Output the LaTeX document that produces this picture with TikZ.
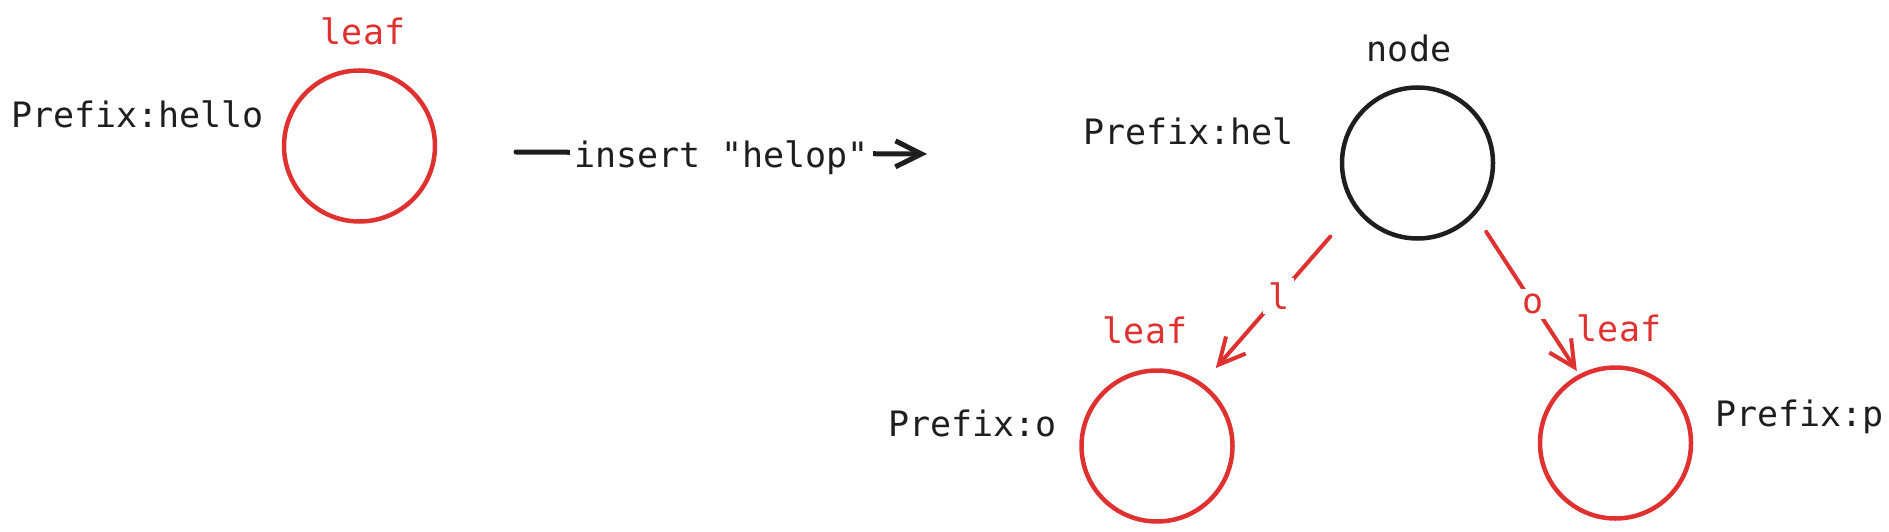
\documentclass[tikz,border=0pt]{standalone}
\usepackage{fontspec}
\setmonofont{DejaVu Sans Mono}
\usetikzlibrary{arrows.meta}
\definecolor{exred}{HTML}{E03131}
\definecolor{exblack}{HTML}{1E1E1E}
\begin{document}
\begin{tikzpicture}[x=1pt,y=-1pt,
  txt/.style={inner sep=0pt, font=\ttfamily\fontsize{35}{42}\selectfont},
  blacktxt/.style={txt, text=exblack},
  redtxt/.style={txt, text=exred},
  ring/.style={circle, line width=4.5pt, minimum size=151pt, inner sep=0pt},
  redring/.style={ring, draw=exred},
  blackring/.style={ring, draw=exblack},
  barb/.style={-{Straight Barb[length=26pt,width=26pt]}, line width=4pt, line cap=round},
  redbarb/.style={barb, draw=exred},
  blackbarb/.style={barb, draw=exblack, line width=5pt},
  edgelabel/.style={redtxt, fill=white, inner sep=5pt}
]
\useasboundingbox (0,0) rectangle (1889,532);

% left: single leaf
\node[redring] (leaf0) at (359.5,146) {};
\node[redtxt, anchor=base] (leaf0lab) at (363,45) {leaf};
\node[blacktxt, anchor=base west] (leaf0pre) at (11,128) {Prefix:hello};

% insert arrow
\coordinate (a1) at (516,152);
\coordinate (a2) at (927,154);
\draw[blackbarb] (a1) -- node[blacktxt, fill=white, inner sep=4pt, yshift=-4.5pt] (inslab) {insert "helop"} (a2);

% right: tree
\node[blackring] (top) at (1417.5,163) {};
\node[blacktxt, anchor=base] (toplab) at (1409,62) {node};
\node[blacktxt, anchor=base west] (toppre) at (1083,144) {Prefix:hel};

\node[redring] (bl) at (1157,446) {};
\node[redtxt, anchor=base] (bllab) at (1145,343) {leaf};
\node[blacktxt, anchor=base east] (blpre) at (1057,436) {Prefix:o};

\node[redring] (br) at (1615.5,443) {};
\node[redtxt, anchor=base] (brlab) at (1619,341) {leaf};
\node[blacktxt, anchor=base west] (brpre) at (1715,426) {Prefix:p};

\draw[redbarb, shorten <=37pt, shorten >=20pt] (top.216) -- node[edgelabel, pos=0.5] (le) {l} (bl.54);
\draw[redbarb, shorten <=20pt, shorten >=4pt] (top.318) -- node[edgelabel, pos=0.56] (re) {o} (br.118);
\end{tikzpicture}
\end{document}
